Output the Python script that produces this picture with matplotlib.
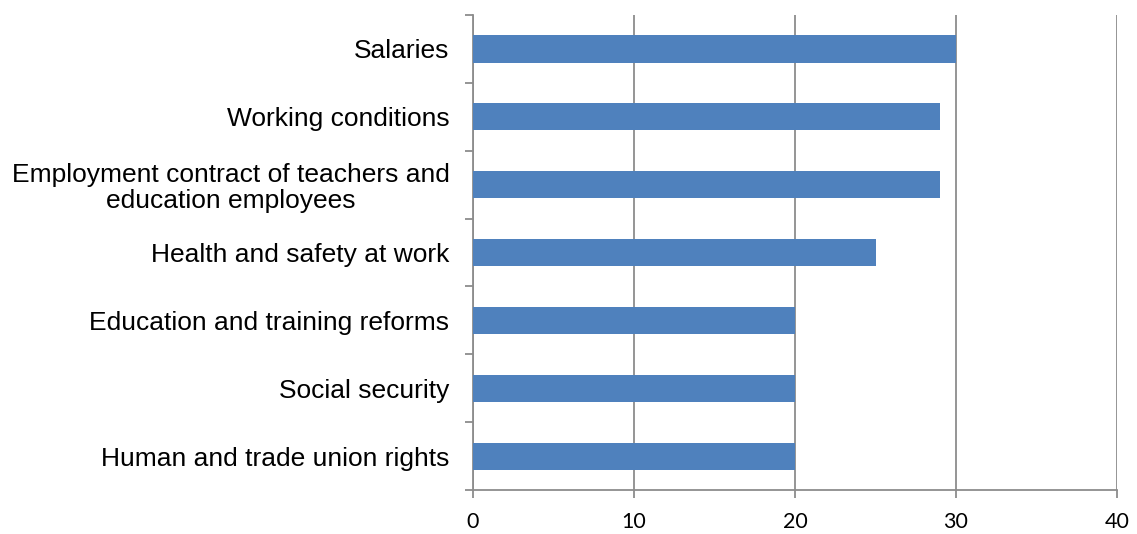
import numpy as np
import matplotlib.pyplot as plt

categories = [
    "Salaries",
    "Working conditions",
    "Employment contract of teachers and\neducation employees",
    "Health and safety at work",
    "Education and training reforms",
    "Social security",
    "Human and trade union rights",
]
values = [30, 29, 29, 25, 20, 20, 20]
x_ticks = [0, 10, 20, 30, 40]

plt.rcParams['font.family'] = ['Liberation Sans', 'DejaVu Sans']

fig = plt.figure(figsize=(11.37, 5.34), dpi=100)
ax = fig.add_axes([473 / 1137, 1 - 490 / 534, (1117 - 473) / 1137, (490 - 15) / 534])

n = len(categories)
y = np.arange(n)[::-1]
grey = "#8c8c8c"

ax.barh(y, values, height=0.4, color="#4f81bd", zorder=3)

ax.set_xlim(0, 40)
ax.set_ylim(-0.5, n - 0.5)
ax.set_xticks(x_ticks)
ax.set_xticklabels([str(v) for v in x_ticks], family=["Lato", "DejaVu Sans"])
ax.grid(axis="x", color=grey, linewidth=1.3, zorder=0)

ax.set_yticks(y)
ax.set_yticklabels(categories, multialignment="center", linespacing=1.1)
ax.set_yticks(np.arange(n + 1) - 0.5, minor=True)

ax.tick_params(axis="y", which="major", length=0, pad=17, labelsize=19)
ax.tick_params(axis="y", which="minor", length=6, width=1.3, color=grey, direction="out")
ax.tick_params(axis="x", length=6, width=1.3, color=grey, direction="out", pad=10, labelsize=15.5)

for side in ["top", "right"]:
    ax.spines[side].set_visible(False)
for side in ["left", "bottom"]:
    ax.spines[side].set_color(grey)
    ax.spines[side].set_linewidth(1.3)

fig.savefig("out.png", dpi=100)
